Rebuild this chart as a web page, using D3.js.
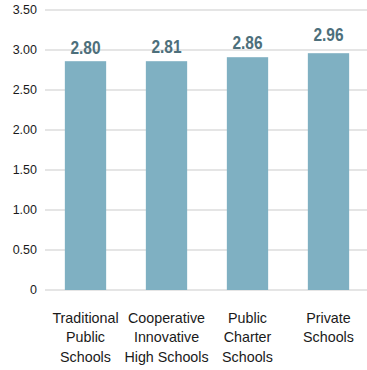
<!DOCTYPE html>
<html>
<head>
<meta charset="utf-8">
<script src="https://cdn.jsdelivr.net/npm/d3@7"></script>
<style>
  html, body { margin: 0; padding: 0; background: #fff; }
  svg { display: block; }
</style>
</head>
<body>
<svg id="chart" width="367" height="370"></svg>
<script>
// ---- data ----
const categories = [
  ["Traditional", "Public", "Schools"],
  ["Cooperative", "Innovative", "High Schools"],
  ["Public", "Charter", "Schools"],
  ["Private", "Schools"]
];
const barValues = [2.86, 2.86, 2.91, 2.96];     // bar heights as drawn
const labelValues = [2.80, 2.81, 2.86, 2.96];   // printed value labels
const yTicks = [0, 0.5, 1.0, 1.5, 2.0, 2.5, 3.0, 3.5];

// ---- layout ----
const svg = d3.select("#chart");
const x = d3.scaleBand()
  .domain(d3.range(categories.length))
  .range([45, 369])
  .paddingInner(0.49)
  .paddingOuter(0.245);
const y = d3.scaleLinear().domain([0, 3.5]).range([290, 10]);

// gridlines
svg.append("g").selectAll("line")
  .data(yTicks)
  .join("line")
  .attr("x1", 45).attr("x2", 367)
  .attr("y1", d => y(d)).attr("y2", d => y(d))
  .attr("stroke", "#dcdcdc")
  .attr("stroke-width", 1.5);

// y tick labels
svg.append("g").selectAll("text")
  .data(yTicks)
  .join("text")
  .attr("x", 37)
  .attr("y", d => y(d))
  .attr("dy", "0.35em")
  .attr("text-anchor", "end")
  .attr("font-family", "Liberation Sans, Arial, sans-serif")
  .attr("font-size", 12.5)
  .attr("fill", "#1a1a1a")
  .text(d => d === 0 ? "0" : d3.format(".2f")(d));

// bars
svg.append("g").selectAll("rect")
  .data(barValues)
  .join("rect")
  .attr("x", (d, i) => x(i))
  .attr("width", x.bandwidth())
  .attr("y", d => y(d))
  .attr("height", d => y(0) - y(d))
  .attr("fill", "#7fb0c2");

// value labels (condensed bold)
svg.append("g").selectAll("text")
  .data(labelValues)
  .join("text")
  .attr("transform", (d, i) => `translate(${x(i) + x.bandwidth() / 2},${y(d) - 12}) scale(0.86,1)`)
  .attr("text-anchor", "middle")
  .attr("font-family", "Liberation Sans, Arial, sans-serif")
  .attr("font-weight", "bold")
  .attr("font-size", 18)
  .attr("fill", "#4d6f7b")
  .text(d => d3.format(".2f")(d));

// category labels
const cat = svg.append("g").selectAll("text")
  .data(categories)
  .join("text")
  .attr("x", (d, i) => x(i) + x.bandwidth() / 2)
  .attr("y", 322.5)
  .attr("text-anchor", "middle")
  .attr("font-family", "Liberation Sans, Arial, sans-serif")
  .attr("font-size", 14.3)
  .attr("fill", "#1a1a1a");
cat.selectAll("tspan")
  .data((d, i) => d.map(t => ({t, i})))
  .join("tspan")
  .attr("x", d => x(d.i) + x.bandwidth() / 2)
  .attr("dy", (d, j) => j === 0 ? 0 : 19.5)
  .text(d => d.t);
</script>
</body>
</html>
